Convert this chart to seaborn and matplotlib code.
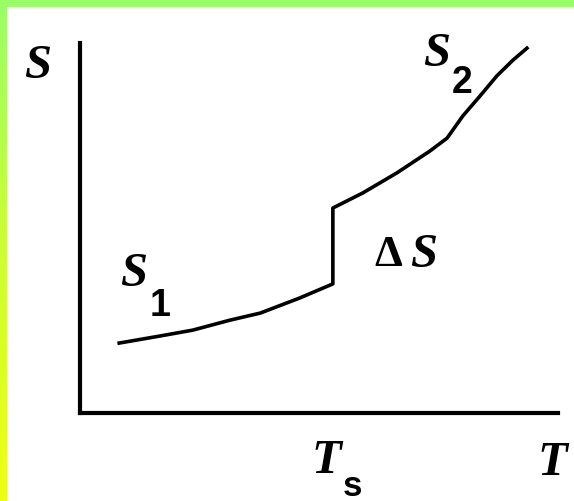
import numpy as np
import pandas as pd
import seaborn as sns
import matplotlib.pyplot as plt
from matplotlib.colors import LinearSegmentedColormap
from matplotlib.patches import Rectangle

# curve (arbitrary units, T 0..10, S 0..10)
T_low = [0.82, 1.67, 2.36, 3.14, 3.77, 4.60, 5.29]
S_low = [1.89, 2.08, 2.24, 2.51, 2.70, 3.11, 3.49]
T_high = [5.29, 5.92, 6.63, 7.32, 7.68, 8.01, 8.37, 8.72, 9.06, 9.35]
S_high = [5.54, 5.95, 6.49, 7.08, 7.43, 8.03, 8.57, 9.11, 9.54, 9.86]

df = pd.DataFrame({"T": T_low + T_high, "S": S_low + S_high})

W, H = 574, 501
fig = plt.figure(figsize=(W / 100, H / 100), dpi=100)
fig.patch.set_facecolor("white")


def px(x, y):
    return x / W, 1 - y / H


ax = fig.add_axes([80 / W, 1 - 413 / H, 478 / W, 370 / H])
sns.lineplot(data=df, x="T", y="S", sort=False, estimator=None,
             color="black", linewidth=2.6, ax=ax)
ax.set_xlim(0, 10)
ax.set_ylim(0, 10)
ax.set_xticks([])
ax.set_yticks([])
ax.set_xlabel("")
ax.set_ylabel("")
for side in ["top", "right"]:
    ax.spines[side].set_visible(False)
for side in ["left", "bottom"]:
    ax.spines[side].set_linewidth(3.0)
    ax.spines[side].set_color("black")

serif = dict(family="Liberation Serif", style="italic", weight="bold",
             size=35, color="black", ha="center", va="center")
sans = dict(family="Liberation Sans", weight="bold", size=27,
            color="black", ha="center", va="center")

fig.text(*px(38, 66), "S", **serif)
fig.text(*px(437, 54), "S", **serif)
fig.text(*px(462, 83), "2", **sans)
fig.text(*px(134, 274), "S", **serif)
fig.text(*px(160, 306), "1", **sans)
fig.text(*px(388, 255), "Δ", family="Liberation Serif", weight="bold",
         size=32, color="black", ha="center", va="center")
fig.text(*px(424, 255), "S", **serif)
fig.text(*px(326, 461), "T", **serif)
fig.text(*px(343, 486), "s", **dict(sans, size=25, ha="left"))
fig.text(*px(552, 463), "T", **serif)

# green/yellow frame
fig.patches.append(Rectangle((0, 1 - 7 / H), 1, 7 / H, transform=fig.transFigure,
                             facecolor="#99ff66", edgecolor="none", zorder=5))
strip = fig.add_axes([0, 0, 6 / W, 1])
cmap = LinearSegmentedColormap.from_list("frame", ["#99ff66", "#ccff33", "#eeff11"])
strip.imshow(np.linspace(0, 1, 256).reshape(-1, 1), cmap=cmap, aspect="auto")
strip.set_axis_off()

fig.savefig("out.png", dpi=100)
